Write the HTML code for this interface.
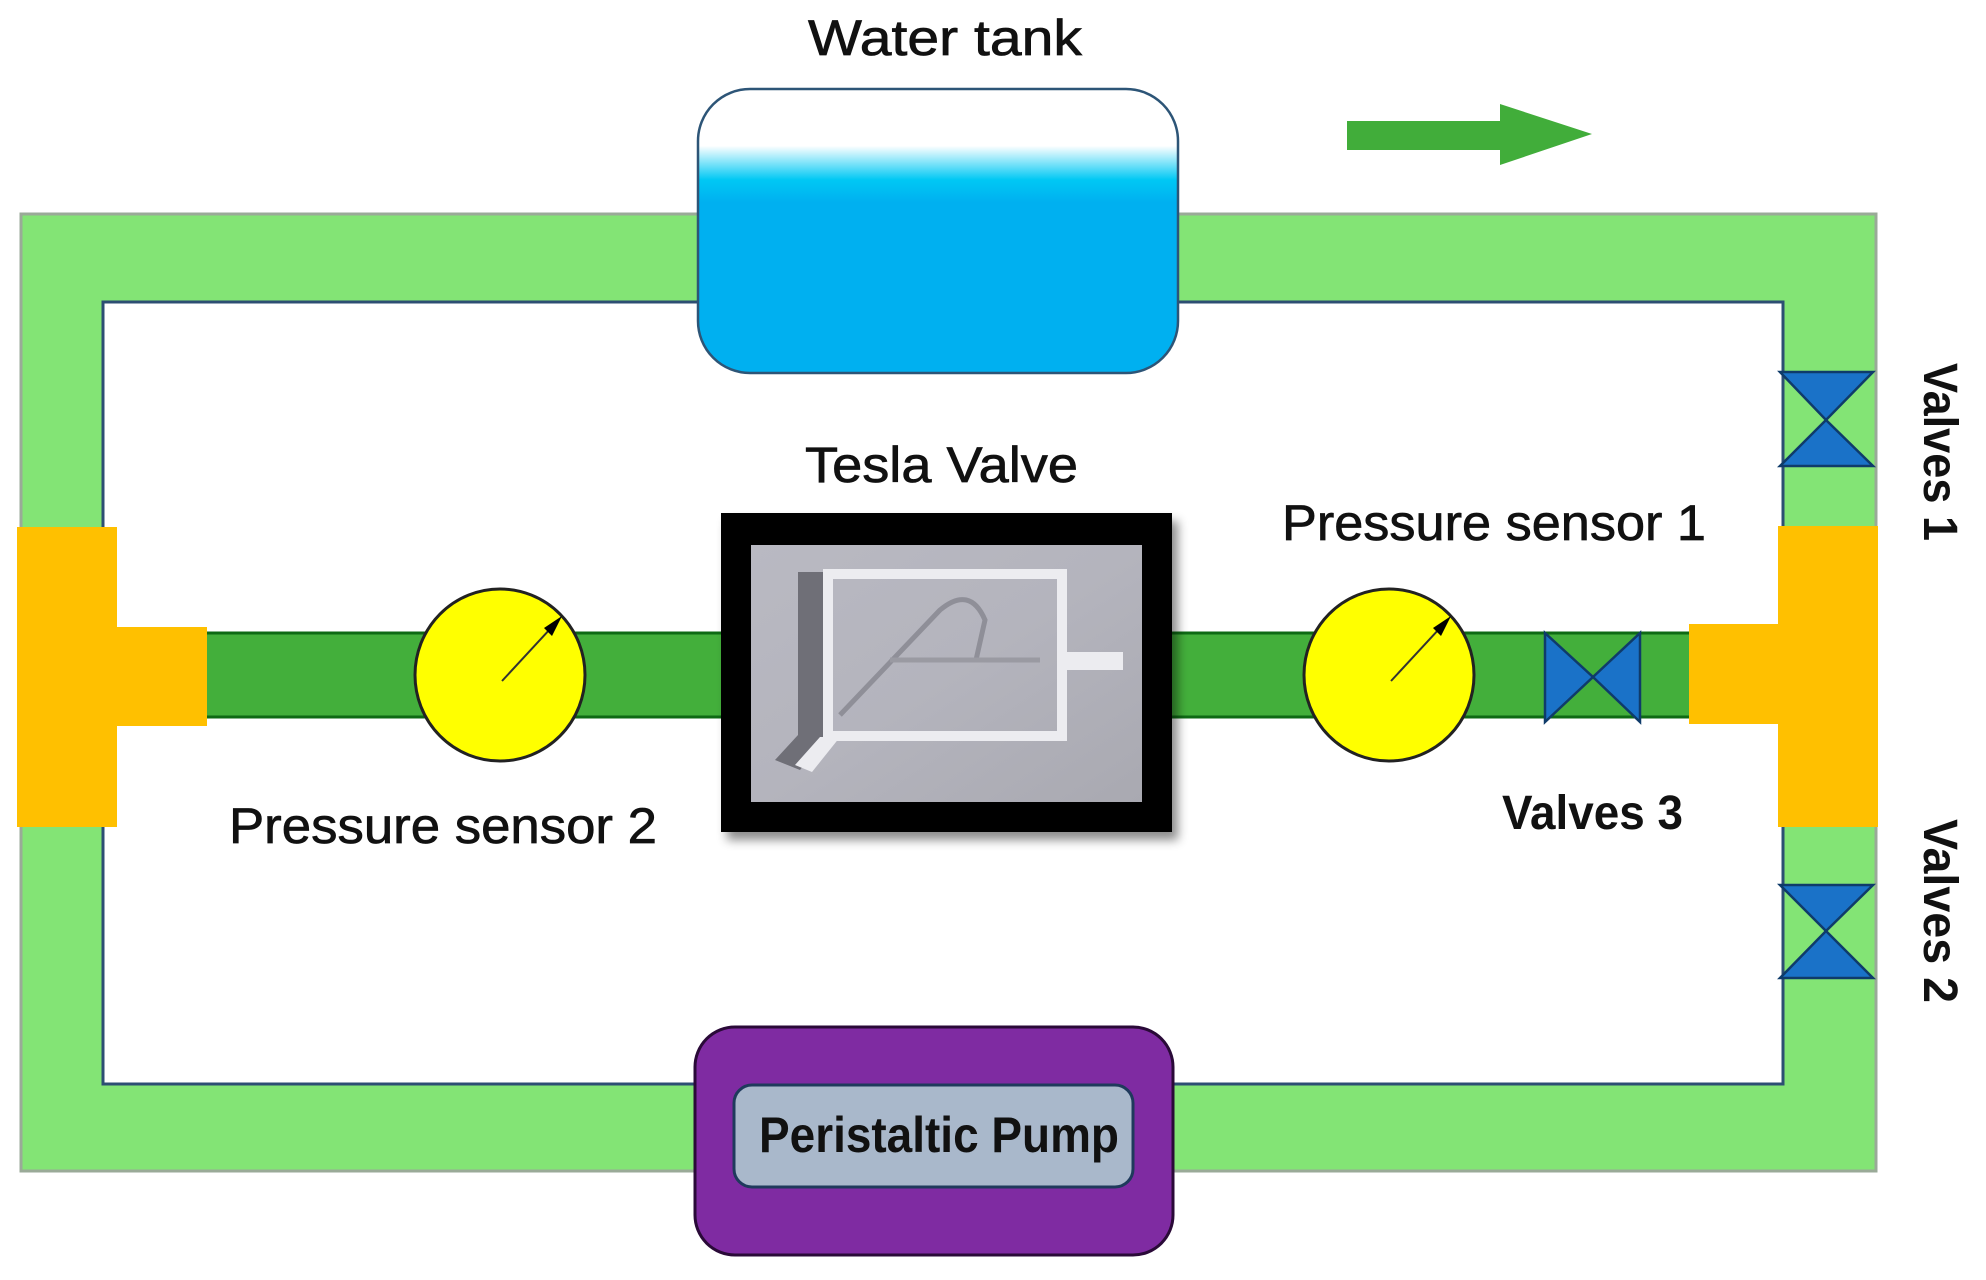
<!DOCTYPE html>
<html><head><meta charset="utf-8"><style>
html,body{margin:0;padding:0;background:#fff;}
svg{display:block;}
text{font-family:"Liberation Sans",sans-serif;fill:#111;}
.n{stroke:#111;stroke-width:0.7;}
</style></head><body>
<svg width="1986" height="1280" viewBox="0 0 1986 1280" xmlns="http://www.w3.org/2000/svg">
<defs>
<linearGradient id="wt" x1="0" y1="0" x2="0" y2="1">
<stop offset="0" stop-color="#ffffff"/><stop offset="0.2" stop-color="#ffffff"/>
<stop offset="0.32" stop-color="#00c8f4"/><stop offset="0.4" stop-color="#00b0f0"/><stop offset="1" stop-color="#00b0f0"/>
</linearGradient>
<linearGradient id="gr" x1="0" y1="0" x2="1" y2="1">
<stop offset="0" stop-color="#b9b9c2"/><stop offset="0.5" stop-color="#b4b4bd"/><stop offset="1" stop-color="#a9a9b1"/>
</linearGradient>
<filter id="sh" x="-10%" y="-10%" width="130%" height="130%"><feDropShadow dx="6" dy="8" stdDeviation="5" flood-color="#000" flood-opacity="0.45"/></filter>
</defs>
<rect x="21" y="214" width="1855" height="957" fill="#83e475" stroke="#9aaa98" stroke-width="3"/>
<rect x="103" y="302" width="1680" height="782" fill="#fff" stroke="#2d4e73" stroke-width="3"/>
<rect x="698" y="89" width="480" height="284" rx="52" fill="url(#wt)" stroke="#2d5577" stroke-width="2.5"/>
<polygon points="1347,121 1500,121 1500,104 1592,134 1500,165 1500,150 1347,150" fill="#41ad3a"/>
<rect x="695" y="1027" width="478" height="228" rx="40" fill="#7f2ba2" stroke="#2a0a38" stroke-width="3"/>
<rect x="734" y="1085" width="399" height="102" rx="18" fill="#a9b8cb" stroke="#1f3a5c" stroke-width="3"/>
<text x="759" y="1152" font-size="50" font-weight="bold" textLength="360" lengthAdjust="spacingAndGlyphs">Peristaltic Pump</text>
<rect x="200" y="633" width="1497" height="84" fill="#43af3b" stroke="#0e6a14" stroke-width="3"/>
<rect x="17" y="527" width="100" height="300" fill="#ffc000"/>
<rect x="115" y="627" width="92" height="99" fill="#ffc000"/>
<rect x="1778" y="526" width="100" height="301" fill="#ffc000"/>
<rect x="1689" y="624" width="91" height="100" fill="#ffc000"/>
<g stroke="#0f3b6a" stroke-width="2.5" fill="#1a72c8">
<polygon points="1780,372 1873,372 1826,420"/><polygon points="1780,466 1873,466 1826,420"/>
<polygon points="1780,885 1873,885 1826,931"/><polygon points="1780,978 1873,978 1826,931"/>
<polygon points="1545,633 1545,722 1593,677"/><polygon points="1640,633 1640,722 1593,677"/>
</g>
<rect x="721" y="513" width="451" height="319" fill="#000" filter="url(#sh)"/>
<rect x="751" y="545" width="391" height="257" fill="url(#gr)"/>
<rect x="798" y="572" width="30" height="175" fill="#6f6f77"/>
<polygon points="798,735 828,735 800,770 775,760" fill="#6f6f77"/>
<rect x="828" y="574" width="234" height="162" fill="none" stroke="#ececf0" stroke-width="10"/>
<rect x="1058" y="652" width="65" height="18" fill="#ececf0"/>
<path d="M840,715 L940,610 Q970,585 985,620 L976,660" fill="none" stroke="#8f8f98" stroke-width="5"/>
<line x1="890" y1="660" x2="1040" y2="660" stroke="#9a9aa2" stroke-width="5"/>
<polygon points="820,737 840,737 812,772 795,765" fill="#ececf0"/>
<g stroke="#222" stroke-width="3" fill="#ffff00">
<ellipse cx="500" cy="675" rx="85" ry="86"/><ellipse cx="1389" cy="675" rx="85" ry="86"/>
</g>
<g stroke="#333" stroke-width="2">
<line x1="502" y1="681" x2="551" y2="628"/><line x1="1391" y1="681" x2="1440" y2="628"/>
</g>
<polygon points="562,616 544,628 552,636" fill="#000"/>
<polygon points="1451,616 1433,628 1441,636" fill="#000"/>
<text class="n" x="808" y="55" font-size="50" textLength="274" lengthAdjust="spacingAndGlyphs">Water tank</text>
<text class="n" x="805" y="482" font-size="50" textLength="273" lengthAdjust="spacingAndGlyphs">Tesla Valve</text>
<text class="n" x="1282" y="540" font-size="50" textLength="424" lengthAdjust="spacingAndGlyphs">Pressure sensor 1</text>
<text class="n" x="229" y="843" font-size="50" textLength="428" lengthAdjust="spacingAndGlyphs">Pressure sensor 2</text>
<text x="1502" y="829" font-size="48" font-weight="bold" textLength="181" lengthAdjust="spacingAndGlyphs">Valves 3</text>
<text transform="translate(1924,363) rotate(90)" font-size="48" font-weight="bold" textLength="178" lengthAdjust="spacingAndGlyphs">Valves 1</text>
<text transform="translate(1924,819) rotate(90)" font-size="48" font-weight="bold" textLength="184" lengthAdjust="spacingAndGlyphs">Valves 2</text>
</svg>
</body></html>
